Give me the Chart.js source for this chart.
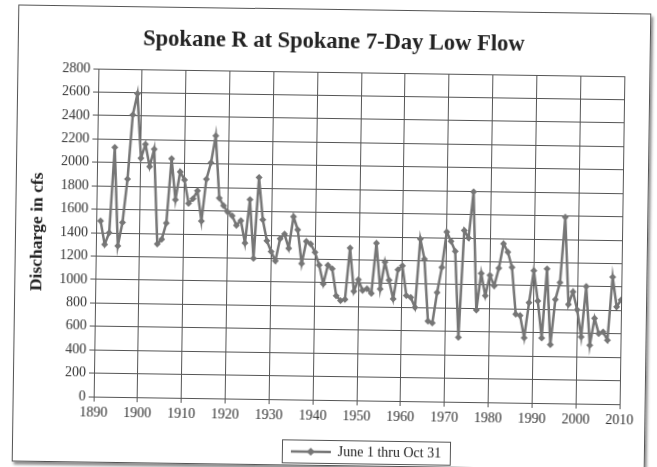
<!DOCTYPE html>
<html>
<head>
<meta charset="utf-8">
<script src="https://cdn.jsdelivr.net/npm/chart.js@4"></script>
<style>
  html, body { margin: 0; padding: 0; background: #fff; }
  #card {
    position: absolute; left: 15px; top: 9px; width: 633px; height: 457px;
    box-sizing: border-box; border: 1px solid #555; background: #fff;
    box-shadow: 2px 3px 3px rgba(0,0,0,0.45);
    transform: rotate(0.83deg);
  }
  #card canvas { display: block; }
</style>
</head>
<body>
<div id="card"><canvas id="flowChart"></canvas></div>
<script>
// Spokane R at Spokane, 7-day low flow (June 1 - Oct 31), cfs
const years = [
  1891, 1892, 1893, 1894, 1895, 1896, 1897, 1898, 1899, 1900,
  1901, 1902, 1903, 1904, 1905, 1906, 1907, 1908, 1909, 1910,
  1911, 1912, 1913, 1914, 1915, 1916, 1917, 1918, 1919, 1920,
  1921, 1922, 1923, 1924, 1925, 1926, 1927, 1928, 1929, 1930,
  1931, 1932, 1933, 1934, 1935, 1936, 1937, 1938, 1939, 1940,
  1941, 1942, 1943, 1944, 1945, 1946, 1947, 1948, 1949, 1950,
  1951, 1952, 1953, 1954, 1955, 1956, 1957, 1958, 1959, 1960,
  1961, 1962, 1963, 1964, 1965, 1966, 1967, 1968, 1969, 1970,
  1971, 1972, 1973, 1974, 1975, 1976, 1977, 1978, 1979, 1980,
  1981, 1982, 1983, 1984, 1985, 1986, 1987, 1988, 1989, 1990,
  1991, 1992, 1993, 1994, 1995, 1996, 1997, 1998, 1999, 2000,
  2001, 2002, 2003, 2004, 2005, 2006, 2007, 2008, 2009, 2010
];
const flows = [
  1500, 1300, 1400, 2130, 1290, 1490, 1860, 2410, 2590, 2040,
  2160, 1970, 2120, 1310, 1350, 1490, 2040, 1690, 1930, 1860,
  1660, 1700, 1770, 1510, 1870, 2010, 2240, 1710, 1645, 1590,
  1560, 1480, 1520, 1330, 1700, 1200, 1890, 1530, 1350, 1260,
  1180, 1370, 1410, 1290, 1560, 1450, 1160, 1350, 1330, 1260,
  1150, 990, 1150, 1120, 890, 850, 860, 1300, 930, 1030,
  940, 955, 915, 1345, 955, 1185, 1030, 870, 1120, 1155,
  900, 885, 800, 1385, 1215, 685, 670, 930, 1145, 1450,
  1370, 1285, 550, 1465, 1400, 1795, 785, 1100, 910, 1085,
  995, 1145, 1355, 1285, 1155, 755, 745, 555, 855, 1130,
  870, 555, 1145, 500, 885, 1030, 1590, 845, 955, 800,
  570, 1000, 500, 730, 600, 615, 545, 1085, 830, 890
];
const xRange = [1890, 2010];
const yRange = [0, 2800];
const seriesName = 'June 1 thru Oct 31';

const lineColor = '#767676';
const gridColor = '#555';
const serif = "'Liberation Serif', 'Times New Roman', serif";

// legend sample: short line with a diamond in the middle
const legendMark = document.createElement('canvas');
legendMark.width = 40;
legendMark.height = 10;
const m = legendMark.getContext('2d');
m.strokeStyle = lineColor;
m.lineWidth = 2.5;
m.beginPath(); m.moveTo(0, 5); m.lineTo(40, 5); m.stroke();
m.fillStyle = lineColor;
m.beginPath(); m.moveTo(20, 1); m.lineTo(24, 5); m.lineTo(20, 9); m.lineTo(16, 5); m.closePath(); m.fill();

// nudge title and legend to where the original sits
const nudge = {
  id: 'nudge',
  afterLayout(chart) {
    const t = chart.titleBlock;
    t.left += 12; t.right += 12;
    const l = chart.legend;
    l.left += 10; l.right += 10;
    l.top += 15; l.bottom += 15;
  }
};

const legendFrame = {
  id: 'legendFrame',
  afterDraw(chart) {
    const box = chart.legend.legendHitBoxes[0];
    if (!box) return;
    const ctx = chart.ctx;
    ctx.save();
    ctx.strokeStyle = '#555';
    ctx.lineWidth = 1;
    ctx.strokeRect(Math.round(box.left - 9) + 0.5, Math.round(box.top - 5) + 0.5,
                   Math.round(box.width + 18), Math.round(box.height + 9));
    ctx.restore();
  }
};

const ctx = document.getElementById('flowChart').getContext('2d');
new Chart(ctx, {
  type: 'line',
  data: {
    datasets: [{
      label: seriesName,
      data: years.map((y, i) => ({ x: y, y: flows[i] })),
      borderColor: lineColor,
      backgroundColor: lineColor,
      borderWidth: 2.5,
      pointStyle: 'rectRot',
      pointRadius: 3.5,
      pointBorderWidth: 0,
      tension: 0
    }]
  },
  options: {
    responsive: true,
    maintainAspectRatio: false,
    animation: false,
    layout: { padding: { left: 0, right: 25, top: 0, bottom: 11 } },
    scales: {
      x: {
        type: 'linear',
        min: xRange[0],
        max: xRange[1],
        afterFit: (s) => { s.height = 24; },
        ticks: {
          stepSize: 10,
          color: '#333',
          font: { family: serif, size: 14 },
          maxRotation: 0,
          callback: (v) => String(v)
        },
        grid: { color: gridColor, lineWidth: 1, tickLength: 5 },
        border: { color: gridColor }
      },
      y: {
        min: yRange[0],
        max: yRange[1],
        afterFit: (s) => { s.width = 80; },
        ticks: {
          stepSize: 200,
          color: '#333',
          font: { family: serif, size: 14 },
          callback: (v) => String(v)
        },
        title: {
          display: true,
          text: 'Discharge in cfs',
          color: '#222',
          font: { family: serif, size: 17.5, weight: 'bold' },
          padding: { top: 11, bottom: 0 }
        },
        grid: { color: gridColor, lineWidth: 1, tickLength: 5 },
        border: { color: gridColor }
      }
    },
    plugins: {
      title: {
        display: true,
        text: 'Spokane R at Spokane 7-Day Low Flow',
        color: '#222',
        font: { family: serif, size: 22.5, weight: 'bold' },
        padding: { top: 19, bottom: 16 }
      },
      legend: {
        position: 'bottom',
        fullSize: false,
        labels: {
          usePointStyle: true,
          pointStyle: legendMark,
          pointStyleWidth: 40,
          color: '#222',
          font: { family: serif, size: 14 },
          padding: 6
        }
      },
      tooltip: { enabled: false }
    }
  },
  plugins: [nudge, legendFrame]
});
</script>
</body>
</html>
